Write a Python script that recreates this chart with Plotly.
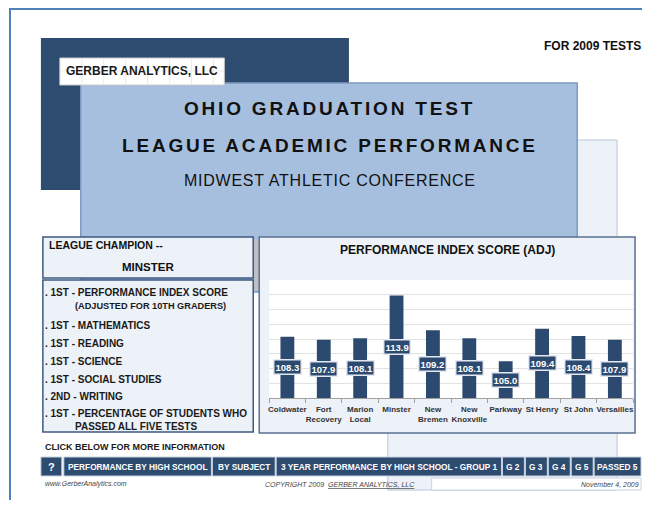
import plotly.graph_objects as go

# page is drawn with an 8px body margin, so the figure is offset by (8, 8)
OFF = 8
W, H = 642, 492
FONT = "Liberation Sans, Arial, sans-serif"

# ---- data ----
schools = ["Coldwater", "Fort Recovery", "Marion Local", "Minster", "New Bremen",
           "New Knoxville", "Parkway", "St Henry", "St John", "Versailles"]
tick_labels = ["Coldwater", "Fort<br>Recovery", "Marion<br>Local", "Minster", "New<br>Bremen",
               "New<br>Knoxville", "Parkway", "St Henry", "St John", "Versailles"]
scores = [108.3, 107.9, 108.1, 113.9, 109.2, 108.1, 105.0, 109.4, 108.4, 107.9]
axis_min, axis_max, axis_step = 100, 116, 2

list_items = [". 1ST - PERFORMANCE INDEX SCORE", "(ADJUSTED FOR 10TH GRADERS)", ". 1ST - MATHEMATICS",
              ". 1ST - READING", ". 1ST - SCIENCE", ". 1ST - SOCIAL STUDIES", ". 2ND - WRITING",
              ". 1ST - PERCENTAGE OF STUDENTS WHO", "PASSED ALL FIVE TESTS"]
buttons = ["?", "PERFORMANCE BY HIGH SCHOOL", "BY SUBJECT",
           "3 YEAR PERFORMANCE BY HIGH SCHOOL - GROUP 1", "G 2", "G 3", "G 4", "G 5", "PASSED 5"]

NAVY = "#2C4A70"
LIGHT = "#A7BFDE"
PALE = "#EDF1F8"


def px(x):
    return (x - OFF) / W


def py(y):
    return 1 - (y - OFF) / H


shapes = []


def rect(x0, y0, x1, y1, fill, line=None, lw=1):
    shapes.append(dict(type="rect", xref="paper", yref="paper", layer="below",
                       x0=px(x0), x1=px(x1), y0=py(y1), y1=py(y0),
                       fillcolor=fill, line=dict(color=line or fill, width=lw if line else 0)))


def line(x0, y0, x1, y1, color, lw=1):
    shapes.append(dict(type="line", xref="paper", yref="paper", layer="below",
                       x0=px(x0), x1=px(x1), y0=py(y0), y1=py(y1),
                       line=dict(color=color, width=lw)))


annotations = []


def text(x, y, s, size, color="#111111", anchor="left", bold=True, italic=False, spacing=None):
    if spacing:
        s = f'<span style="letter-spacing:{spacing}px">{s}</span>'
    annotations.append(dict(xref="paper", yref="paper", x=px(x), y=py(y), text=s,
                            showarrow=False, xanchor=anchor, yanchor="middle", borderpad=0,
                            font=dict(family=FONT, size=size, color=color,
                                      weight="bold" if bold else "normal",
                                      style="italic" if italic else "normal")))


# outer border
line(8, 9, 650, 9, "#4F81BD", 2)
line(9, 8, 9, 508, "#4F81BD", 2)

# pale background rect at right
rect(388, 140, 618, 490, PALE, "#B9C6D8", 1)
# dark navy rect
rect(40, 38, 349, 190, "#2E4B70")
# main light blue rect
rect(80, 83, 578, 292, LIGHT, "#7E9BC4", 1.5)
# gray shadow strip
rect(253, 240, 259, 290, "#C0C0C0")
# Gerber box
rect(59, 58, 224, 85, "#FFFFFF", "#C8C8C8", 1)
for gx in [81, 103, 125, 147, 169, 191, 213]:
    line(gx, 59, gx, 84, "#EBEBEB", 1)
line(60, 71, 223, 71, "#EBEBEB", 1)

# left panels
rect(42, 237, 253, 278, PALE, "#3E5A80", 1.5)
rect(42, 280, 253, 432, PALE, "#3E5A80", 1.5)
# chart panel
rect(259, 237, 636, 433, PALE, "#5A7192", 1.5)
# white plot area
rect(269, 280, 634, 398, "#FFFFFF")

# buttons
btn_edges = [(40, 61), (63, 211), (212, 275), (276, 502), (503, 525), (526, 548),
             (549, 571), (572, 594), (595, 642)]
for (bx0, bx1), label in zip(btn_edges, buttons):
    rect(bx0, 457, bx1, 476, "#2E4B70", "#C9D3E2", 1)
    text((bx0 + bx1) / 2, 466.5, label, 11 if label == "?" else 8.3, "#FFFFFF", "center")

# November box
rect(432, 478, 642, 490, "#FFFFFF", "#C9D3E2", 1)

# header texts
text(643, 46, "FOR 2009 TESTS", 12, "#111111", "right")
text(141, 71, "GERBER ANALYTICS, LLC", 12, "#1A1A1A", "center")
text(330, 108, "OHIO GRADUATION TEST", 19, "#111111", "center", spacing=2.8)
text(330, 145, "LEAGUE ACADEMIC PERFORMANCE", 19, "#111111", "center", spacing=2.8)
text(330, 181, "MIDWEST ATHLETIC CONFERENCE", 16, "#111111", "center", bold=False, spacing=0.75)

# left panel texts
text(47, 245, "LEAGUE CHAMPION --", 10.5, "#111111")
text(147, 267, "MINSTER", 11.5, "#111111", "center")
item_y = [292, 306, 325, 343, 361, 379, 396, 413, 426]
for s, yy in zip(list_items, item_y):
    if s.startswith("."):
        text(43, yy, s, 10, "#1A1A1A")
    else:
        text(73, yy, s, 9.2 if yy == 306 else 10, "#1A1A1A")

text(43, 447, "CLICK BELOW FOR MORE INFORMATION", 9, "#1A1A1A")

# chart title
text(448, 250, "PERFORMANCE INDEX SCORE (ADJ)", 12, "#111111", "center")

# footer
text(43, 484, "www.GerberAnalytics.com", 7, "#444444", bold=False, italic=True)
text(340, 484, "COPYRIGHT 2009  <u>GERBER ANALYTICS, LLC</u>", 7, "#444444", "center",
     bold=False, italic=True)
text(641, 484, "November 4, 2009", 7, "#444444", "right", bold=False, italic=True)

# value labels inside bars
for s, v in zip(schools, scores):
    annotations.append(dict(xref="x", yref="y", x=s, y=(axis_min + v) / 2,
                            text=f"<b>{v:.1f}</b>", showarrow=False,
                            bgcolor=NAVY, bordercolor="#E4E9F1", borderwidth=1.5, borderpad=1,
                            font=dict(family=FONT, size=9.5, color="#FFFFFF")))

fig = go.Figure(go.Bar(x=schools, y=scores, marker=dict(color=NAVY, line=dict(width=0)),
                       width=0.38, hoverinfo="x+y"))

fig.update_layout(
    width=W, height=H, margin=dict(l=0, r=0, t=0, b=0),
    paper_bgcolor="#FFFFFF", plot_bgcolor="rgba(0,0,0,0)",
    showlegend=False, shapes=shapes, annotations=annotations,
    xaxis=dict(domain=[px(269), px(634)], tickmode="array", tickvals=schools, ticktext=tick_labels,
               tickangle=0, ticklabelstandoff=3,
               tickfont=dict(family=FONT, size=8, color="#333333", weight="bold"),
               showline=True, linecolor="#A0A0A0", ticks="outside", tickson="boundaries",
               ticklen=4, tickcolor="#A0A0A0", showgrid=False, fixedrange=True),
    yaxis=dict(domain=[py(398), py(280)], range=[axis_min, axis_max], dtick=axis_step,
               showticklabels=False, showgrid=True, gridcolor="#E2E2E2", zeroline=False,
               fixedrange=True),
)

fig.write_html("out.html")
